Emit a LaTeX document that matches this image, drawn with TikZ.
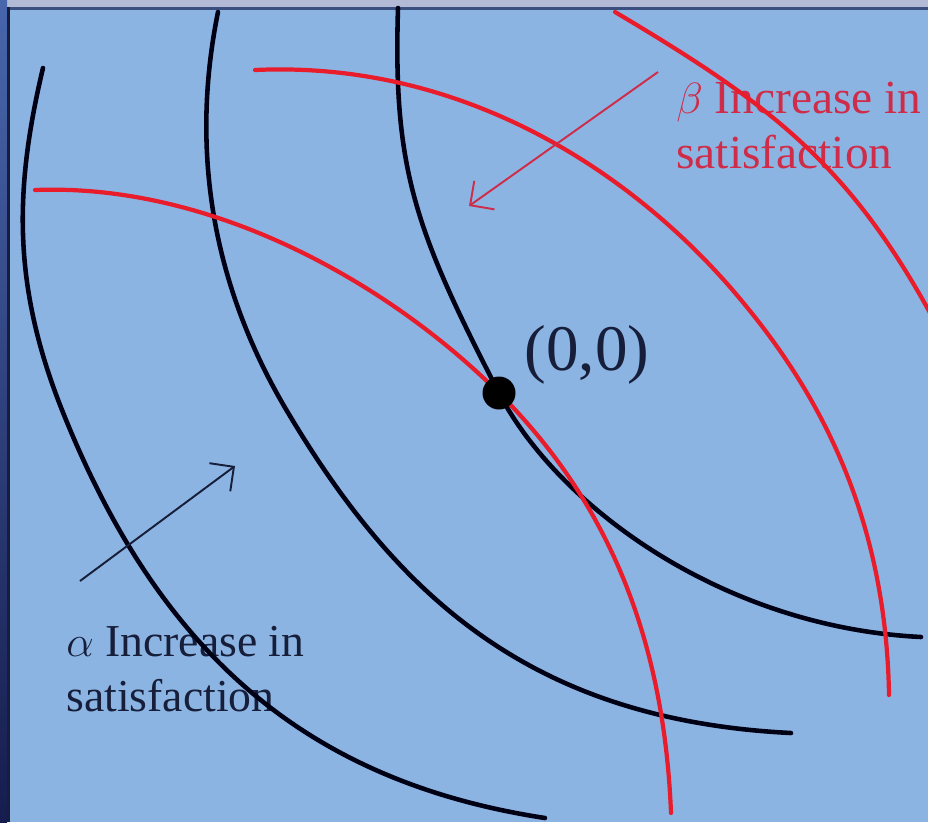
\documentclass[tikz,border=0pt]{standalone}
\usepackage{fontspec}
\setmainfont{Liberation Serif}
\usetikzlibrary{arrows.meta,positioning}
\definecolor{slide}{RGB}{140,180,227}
\definecolor{rimtop}{RGB}{178,186,214}
\definecolor{rimline}{RGB}{58,78,128}
\definecolor{curvered}{RGB}{232,28,42}
\definecolor{textred}{RGB}{206,44,72}
\definecolor{inkdark}{RGB}{22,30,58}
\begin{document}
\begin{tikzpicture}[x=0.02cm, y=-0.02cm, >={Straight Barb[length=3.5mm,width=7mm]},
		alpha curve/.style={line width=2.6pt, black!92!blue, line cap=round},
		beta curve/.style={line width=2.4pt, curvered, line cap=round},
		pointer/.style={->, line width=1.1pt},
		caption/.style={font=\fontsize{#1}{31}\selectfont, align=left, anchor=north west, inner sep=0pt}]
		\useasboundingbox (0,0) rectangle (928,822);
		% slide background and rim
		\fill[slide] (0,0) rectangle (928,822);
		\fill[rimtop] (0,0) rectangle (928,7);
		\fill[rimline] (0,7) rectangle (928,10);
		\shade[top color={rgb,255:red,72;green,102;blue,172}, bottom color={rgb,255:red,22;green,28;blue,78}] (0,0) rectangle (7,822);
		\fill[inkdark] (7,7) rectangle (10,822);
		% captions sit under the curves
		\node[caption=26, text=inkdark] (alphatext) at (66,626) {$\alpha$ Increase in\\satisfaction};
		\node[caption=27, text=textred] (betatext) at (676,82) {$\beta$ Increase in\\satisfaction};
		% alpha indifference curves
		\draw[alpha curve] (43,68) .. controls (13,194) and (14,289) .. (62,410)
			.. controls (155,643) and (297,780) .. (545,818);
		\draw[alpha curve] (218,12) .. controls (190,150) and (212,285) .. (287,411)
			.. controls (397,596) and (531,720) .. (791,733);
		\draw[alpha curve] (398,8) .. controls (393,170) and (415,230) .. (499,393)
			.. controls (557,505) and (721,627) .. (921,637);
		% beta indifference curves
		\draw[beta curve] (35,190) .. controls (215,183) and (392,286) .. (499,393)
			.. controls (591,485) and (663,613) .. (671,813);
		\draw[beta curve] (255,70) .. controls (475,60) and (645,184) .. (741,300)
			.. controls (818,392) and (886,515) .. (889,695);
		\draw[beta curve] (615,12) .. controls (770,104) and (850,164) .. (935,322);
		% origin
		\node[circle, fill=black, minimum size=0.66cm, inner sep=0pt] (origin) at (499,393) {};
		\node[font=\fontsize{37}{40}\selectfont, text=inkdark, inner sep=0pt] (originlabel) at (587,355) {(0,0)};
		% directions of increasing satisfaction
		\coordinate (alphatail) at (80,581);
		\coordinate (alphahead) at (235,466);
		\coordinate (betatail) at (658,72);
		\coordinate (betahead) at (469,206);
		\draw[pointer, inkdark] (alphatail) -- (alphahead);
		\draw[pointer, textred] (betatail) -- (betahead);
	\end{tikzpicture}
\end{document}
